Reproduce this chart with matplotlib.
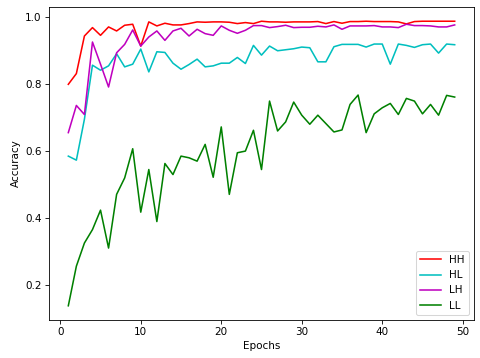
import numpy as np
import matplotlib
matplotlib.use("Agg")
import matplotlib.pyplot as plt

epochs = np.arange(1, 50)

# accuracy per epoch
hh = [0.799, 0.831, 0.943, 0.968, 0.945, 0.970, 0.958, 0.975, 0.978, 0.913,
      0.985, 0.973, 0.981, 0.976, 0.976, 0.980, 0.985, 0.984, 0.985, 0.985,
      0.984, 0.980, 0.983, 0.980, 0.987, 0.985, 0.985, 0.984, 0.985, 0.985,
      0.985, 0.986, 0.980, 0.986, 0.981, 0.986, 0.986, 0.987, 0.986, 0.986,
      0.986, 0.985, 0.979, 0.986, 0.987, 0.987, 0.987, 0.987, 0.987]
hl = [0.585, 0.573, 0.695, 0.856, 0.841, 0.854, 0.890, 0.851, 0.859, 0.904,
      0.836, 0.896, 0.894, 0.862, 0.844, 0.858, 0.874, 0.851, 0.854, 0.862,
      0.862, 0.879, 0.861, 0.915, 0.886, 0.913, 0.899, 0.902, 0.905, 0.910,
      0.908, 0.866, 0.866, 0.911, 0.918, 0.918, 0.918, 0.910, 0.919, 0.919,
      0.859, 0.919, 0.915, 0.909, 0.917, 0.919, 0.892, 0.919, 0.917]
lh = [0.655, 0.736, 0.709, 0.925, 0.859, 0.791, 0.893, 0.918, 0.961, 0.913,
      0.940, 0.958, 0.930, 0.958, 0.966, 0.943, 0.963, 0.950, 0.945, 0.973,
      0.960, 0.951, 0.960, 0.974, 0.974, 0.968, 0.971, 0.975, 0.968, 0.969,
      0.969, 0.972, 0.970, 0.976, 0.963, 0.973, 0.973, 0.973, 0.974, 0.970,
      0.970, 0.968, 0.978, 0.974, 0.974, 0.973, 0.970, 0.970, 0.976]
ll = [0.139, 0.257, 0.326, 0.366, 0.424, 0.311, 0.471, 0.520, 0.607, 0.418,
      0.545, 0.390, 0.563, 0.530, 0.585, 0.580, 0.570, 0.620, 0.522, 0.672,
      0.471, 0.595, 0.600, 0.662, 0.545, 0.749, 0.660, 0.687, 0.746, 0.707,
      0.680, 0.707, 0.682, 0.657, 0.663, 0.739, 0.767, 0.655, 0.711, 0.729,
      0.742, 0.709, 0.757, 0.749, 0.711, 0.739, 0.707, 0.766, 0.761]

fig = plt.figure(figsize=(6.4, 358 / 75), dpi=75)
ax = fig.add_axes([49 / 480, 38 / 358, 425 / 480, 313 / 358])

ax.plot(epochs, hh, color='r', label='HH')
ax.plot(epochs, hl, color='c', label='HL')
ax.plot(epochs, lh, color='m', label='LH')
ax.plot(epochs, ll, color='g', label='LL')

ax.set_xlabel('Epochs')
ax.set_ylabel('Accuracy')
ax.legend(loc='lower right')

fig.savefig('out.png', dpi=75)
